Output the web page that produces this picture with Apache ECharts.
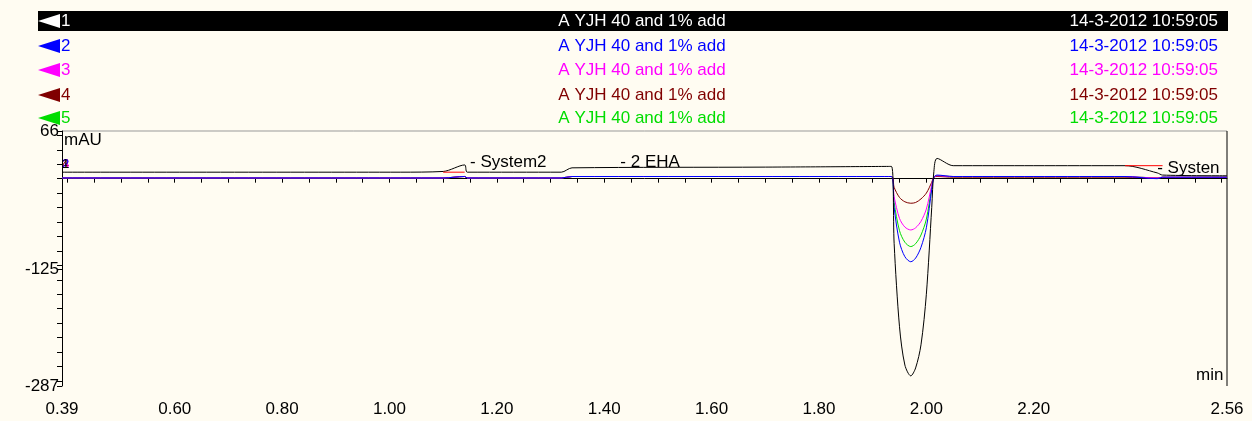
<!DOCTYPE html>
<html>
<head>
<meta charset="utf-8">
<script src="https://cdn.jsdelivr.net/npm/echarts@6/dist/echarts.min.js"></script>
<style>
html, body { margin: 0; padding: 0; background: #fffcf2; }
#chart { width: 1252px; height: 421px; }
</style>
</head>
<body>
<div id="chart"></div>
<script>
// time axis (min)
var times = [0.39, 1.02, 1.10, 1.14, 1.145, 1.32, 1.34, 1.70, 1.935, 1.94, 1.95, 1.96, 1.971, 1.98, 1.99, 2.00, 2.01, 2.014, 2.02, 2.05, 2.20, 2.37, 2.43, 2.44, 2.56];
// signals (mAU)
var run1 = [9, 9, 10, 19, 9, 9, 15, 16, 17, -90, -205, -258, -273, -262, -230, -160, -40, 10, 28, 18, 18, 18, 8, 5, 4];
var run2 = [1, 1, 1, 3, 1, 1, 3, 3, 3, -40, -88, -108, -115, -110, -95, -68, -15, 2, 5, 3, 3, 3, 0, 2, 2];
var run3 = [1, 1, 1, 3, 1, 1, 3, 3, 3, -25, -55, -67, -71, -68, -59, -42, -9, 2, 4, 3, 3, 3, 1, 2, 2];
var run4 = [1, 1, 1, 3, 1, 1, 3, 3, 3, -12, -26, -32, -34, -33, -28, -20, -5, 2, 3, 2, 2, 2, 1, 2, 2];
var run5 = [1, 1, 1, 3, 1, 1, 3, 3, 3, -33, -72, -88, -94, -90, -78, -56, -12, 2, 4, 3, 3, 3, 1, 2, 2];
// integration baselines
var baseTimes = [1.10, 1.14, null, 2.37, 2.44];
var baseValues = [9, 9, null, 18, 18];
// peak names
var peakTimes = [1.15, 1.43, 2.43];
var peakValues = [22, 22, 15];
var peakNames = ['- System2', '- 2 EHA', '- Systen'];

var runNames = ['1', '2', '3', '4', '5'];
var runColors = ['#000000', '#0000ff', '#ff00ff', '#800000', '#00dd00'];
var runTitle = 'A YJH 40 and 1% add';
var runDate = '14-3-2012 10:59:05';
var xLabels = [0.39, 0.6, 0.8, 1.0, 1.2, 1.4, 1.6, 1.8, 2.0, 2.2, 2.56];
var yLabels = [66, -125, -287];

function pairs(xs, ys) {
  return xs.map(function (x, i) { return x === null ? [null, null] : [x, ys[i]]; });
}

var FONT = '17px Arial, Liberation Sans';
var chart = echarts.init(document.getElementById('chart'));
var runs = [run1, run2, run3, run4, run5];
var series = [];
for (var i = runs.length - 1; i >= 0; i--) {
  series.push({
    type: 'line', name: runNames[i], data: pairs(times, runs[i]), showSymbol: false,
    smooth: 0.3, lineStyle: { width: 1, color: runColors[i] }, z: 10 - i
  });
}
series.push({
  type: 'line', data: pairs(baseTimes, baseValues), showSymbol: false, connectNulls: false,
  lineStyle: { width: 1, color: '#ff0000' }, z: 11
});
series.push({
  type: 'scatter', symbolSize: 0, data: pairs(peakTimes, peakValues), z: 20,
  itemStyle: { opacity: 1 },
  label: {
    show: true, position: 'right', distance: 0, fontFamily: 'Arial, Liberation Sans', fontSize: 17, color: '#000', opacity: 1,
    formatter: function (p) { return peakNames[p.dataIndex]; }
  },
  emphasis: { disabled: true }
});

var graphics = [];
var rowY = [21, 46, 70, 95, 118];
runNames.forEach(function (n, i) {
  var c = i === 0 ? '#fff' : runColors[i];
  if (i === 0) graphics.push({ type: 'rect', shape: { x: 38, y: rowY[i] - 10, width: 1190, height: 20 }, style: { fill: '#000' } });
  graphics.push({ type: 'polygon', shape: { points: [[38, rowY[i]], [60, rowY[i] - 7], [60, rowY[i] + 7]] }, style: { fill: i === 0 ? '#fff' : runColors[i] } });
  graphics.push({ type: 'text', x: 61, y: rowY[i], style: { text: n, fill: c, font: FONT, verticalAlign: 'middle' } });
  graphics.push({ type: 'text', x: 642, y: rowY[i], style: { text: runTitle, fill: c, font: FONT, align: 'center', verticalAlign: 'middle' } });
  graphics.push({ type: 'text', x: 1218, y: rowY[i], style: { text: runDate, fill: c, font: FONT, align: 'right', verticalAlign: 'middle' } });
});
graphics.push({ type: 'text', x: 64, y: 132, style: { text: 'mAU', fill: '#000', font: FONT } });
graphics.push({ type: 'text', x: 1196, y: 367, style: { text: 'min', fill: '#000', font: FONT } });
runNames.slice(0, 4).reverse().forEach(function (n, k) {
  graphics.push({ type: 'text', x: 62, y: 158, style: { text: n, fill: runColors[3 - k], font: '13px Arial, Liberation Sans' } });
});

var xTicks = [];
for (var t = 40; t <= 256; t += 5) xTicks.push(t / 100);
var yTicks = [];
for (var v = 60; v >= -280; v -= 20) yTicks.push(v);

chart.setOption({
  backgroundColor: '#fffcf2',
  animation: false,
  grid: { left: 62, right: 25, top: 131, bottom: 35, show: true, borderColor: '#000', borderWidth: 0 },
  xAxis: {
    type: 'value', min: 0.39, max: 2.56,
    axisLine: { lineStyle: { color: '#000' } },
    axisTick: { customValues: xTicks, length: 4, lineStyle: { color: '#000' } },
    axisLabel: {
      customValues: xLabels, color: '#000', fontFamily: 'Arial, Liberation Sans', fontSize: 17, margin: 15,
      formatter: function (v) { return v.toFixed(2); }
    },
    splitLine: { show: false }
  },
  yAxis: {
    type: 'value', min: -287, max: 66,
    axisLine: { show: true, lineStyle: { color: '#000' } },
    axisTick: { customValues: yTicks.concat(yLabels), length: 5, lineStyle: { color: '#000' } },
    axisLabel: { customValues: yLabels, color: '#000', fontFamily: 'Arial, Liberation Sans', fontSize: 17, margin: 3 },
    splitLine: { show: false }
  },
  series: series,
  graphic: graphics.concat([
    { type: 'line', shape: { x1: 62, y1: 131, x2: 1227, y2: 131 }, style: { stroke: '#999', lineWidth: 1 } },
    { type: 'line', shape: { x1: 1227, y1: 131, x2: 1227, y2: 386 }, style: { stroke: '#000', lineWidth: 1 } }
  ])
});
</script>
</body>
</html>
